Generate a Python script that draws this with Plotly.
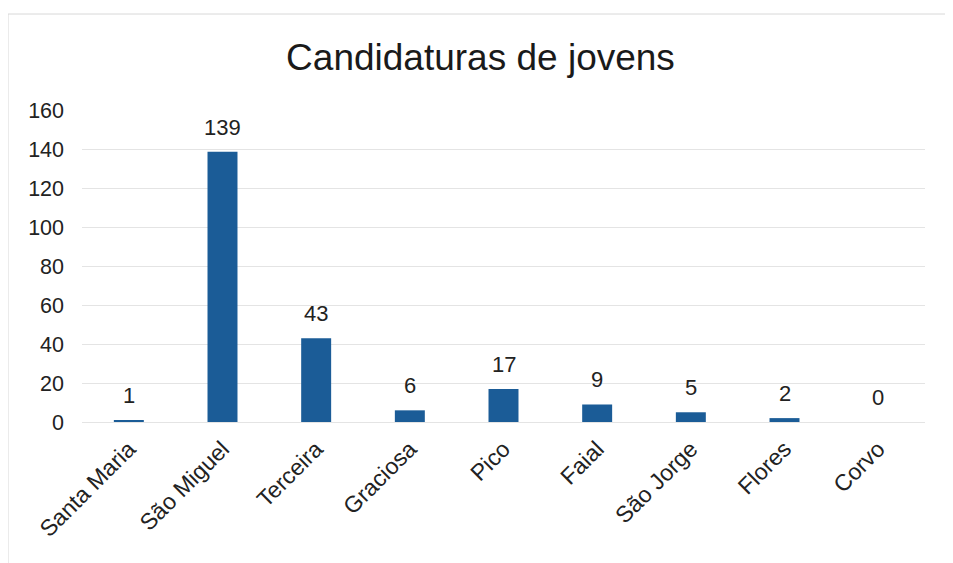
import plotly.graph_objects as go

islands = ["Santa Maria", "São Miguel", "Terceira", "Graciosa", "Pico",
           "Faial", "São Jorge", "Flores", "Corvo"]
candidaturas = [1, 139, 43, 6, 17, 9, 5, 2, 0]
y_ticks = [0, 20, 40, 60, 80, 100, 120, 140, 160]

W, H = 945, 555
L, R, T, B = 74, 28, 102, 141
pw, ph = W - L - R, H - T - B
FONT = "Liberation Sans, Arial, sans-serif"

fig = go.Figure(go.Bar(
    x=islands, y=candidaturas,
    marker=dict(color="#1b5c97", line=dict(width=0)),
    cliponaxis=False,
))

annotations = [dict(x=c, y=v, text=str(v), showarrow=False, xref="x", yref="y",
                    yanchor="bottom", yshift=10,
                    font=dict(size=22, color="#222222", family=FONT))
               for c, v in zip(islands, candidaturas)]

fig.update_layout(
    width=W, height=H,
    margin=dict(l=L, r=R, t=T, b=B),
    paper_bgcolor="white", plot_bgcolor="white",
    font=dict(family=FONT, color="#222222"),
    title=dict(text="Candidaturas de jovens", x=0.5, xanchor="center",
               y=1 - 49 / H, yanchor="middle",
               font=dict(size=37, color="#1a1a1a", family=FONT)),
    bargap=0.68,
    showlegend=False,
    annotations=annotations,
    shapes=[dict(type="rect", xref="paper", yref="paper",
                 x0=(0 - L) / pw, x1=(942 - L) / pw,
                 y0=-0.6, y1=(H - B - 6) / ph,
                 line=dict(color="#d8d8d8", width=1), layer="below")],
)
fig.update_yaxes(range=[0, 160.4], tickvals=y_ticks, showgrid=True,
                 gridcolor="#e4e4e4", gridwidth=1, zeroline=True,
                 zerolinecolor="#e4e4e4", zerolinewidth=1,
                 showline=False, ticks="", ticklen=0, ticklabelstandoff=17,
                 tickfont=dict(size=21.5, color="#222222"))
fig.update_xaxes(tickangle=-45, showline=False, ticks="", showgrid=False,
                 ticklabelstandoff=8,
                 tickfont=dict(size=23, color="#222222"))

fig.write_html("out.html")
